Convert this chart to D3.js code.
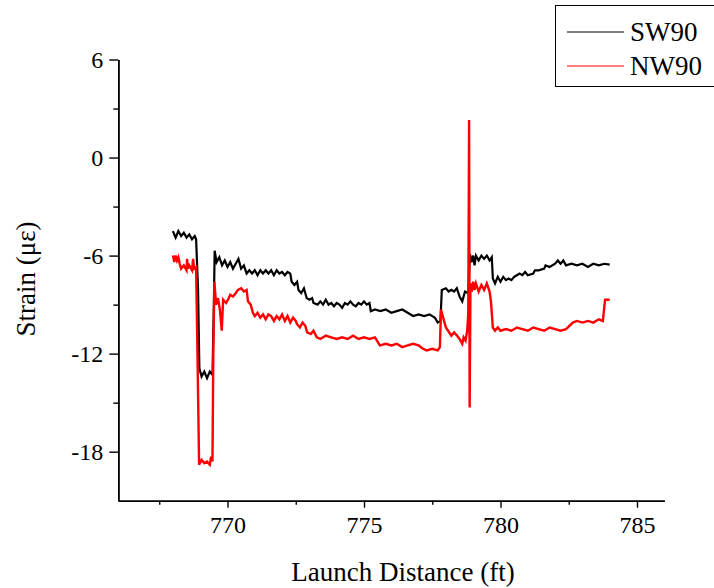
<!DOCTYPE html>
<html>
<head>
<meta charset="utf-8">
<script src="https://cdn.jsdelivr.net/npm/d3@7"></script>
<style>
  html, body { margin: 0; padding: 0; background: #fff; }
  svg { display: block; }
  text { font-family: "Liberation Serif", "Times New Roman", serif; fill: #000; }
</style>
</head>
<body>
<svg id="chart" width="714" height="588"></svg>
<script>
// ---- data ----
const seriesNames = ["SW90", "NW90"];
const xTicks = [770, 775, 780, 785];
const yTicks = [6, 0, -6, -12, -18];

const sw90Dist = [768.0,768.1,768.2,768.3,768.4,768.5,768.6,768.7,768.8,768.85,768.92,768.97,769.05,769.15,769.25,769.35,769.45,769.5,769.53,769.6,769.7,769.8,769.9,770.0,770.1,770.2,770.3,770.4,770.5,770.6,770.7,770.8,770.9,771.0,771.1,771.2,771.3,771.4,771.5,771.6,771.7,771.8,771.9,772.0,772.1,772.2,772.3,772.35,772.45,772.55,772.6,772.7,772.8,772.9,773.0,773.1,773.15,773.3,773.4,773.5,773.6,773.7,773.8,773.9,774.0,774.1,774.2,774.3,774.4,774.5,774.6,774.7,774.8,774.9,775.0,775.1,775.2,775.25,775.4,775.6,775.8,776.0,776.2,776.4,776.6,776.8,777.0,777.2,777.4,777.6,777.7,777.8,777.85,778.0,778.1,778.2,778.3,778.4,778.5,778.6,778.7,778.82,778.88,778.95,779.0,779.05,779.1,779.2,779.3,779.4,779.5,779.6,779.68,779.72,779.8,779.9,780.0,780.1,780.2,780.3,780.4,780.5,780.6,780.7,780.8,780.9,781.0,781.2,781.26,781.4,781.6,781.65,781.8,782.0,782.1,782.2,782.3,782.4,782.6,782.8,783.0,783.2,783.4,783.6,783.8,784.0];
const sw90Strain = [-4.5,-4.9,-4.5,-4.8,-4.6,-4.9,-4.7,-5.0,-4.8,-5.0,-8.0,-12.9,-13.4,-13.1,-13.5,-13.1,-13.3,-9.0,-5.7,-6.4,-6.1,-6.6,-6.3,-6.7,-6.4,-6.8,-6.5,-6.2,-6.8,-6.6,-7.1,-6.9,-7.1,-6.9,-7.2,-6.9,-7.1,-6.9,-7.1,-6.9,-7.2,-6.9,-7.1,-7.0,-7.2,-7.0,-7.1,-7.6,-7.8,-7.6,-8.1,-8.3,-8.0,-8.6,-8.7,-8.6,-8.9,-9.0,-8.8,-9.0,-8.7,-9.0,-8.9,-9.1,-8.9,-9.0,-9.2,-8.9,-9.0,-8.8,-9.0,-9.1,-8.9,-9.0,-8.8,-9.0,-8.9,-9.4,-9.3,-9.4,-9.3,-9.5,-9.4,-9.3,-9.5,-9.7,-9.6,-9.7,-9.6,-9.8,-10.1,-10.0,-8.1,-8.0,-8.2,-8.1,-8.2,-8.0,-8.5,-8.8,-8.2,-8.3,-5.9,-6.4,-6.0,-6.6,-6.0,-6.3,-6.0,-6.2,-6.0,-6.3,-6.1,-7.4,-7.7,-7.3,-7.6,-7.3,-7.5,-7.4,-7.5,-7.3,-7.2,-7.1,-7.2,-7.0,-7.2,-7.1,-6.9,-6.9,-6.8,-6.6,-6.7,-6.5,-6.3,-6.5,-6.3,-6.6,-6.5,-6.6,-6.5,-6.7,-6.5,-6.6,-6.5,-6.55];

const nw90Dist = [768.0,768.05,768.1,768.15,768.2,768.25,768.3,768.4,768.5,768.52,768.55,768.6,768.7,768.74,768.78,768.85,768.9,768.96,769.05,769.15,769.25,769.35,769.4,769.45,769.48,769.52,769.58,769.65,769.72,769.79,769.84,769.95,770.05,770.1,770.2,770.3,770.38,770.5,770.6,770.7,770.75,770.85,770.93,771.0,771.1,771.2,771.3,771.4,771.5,771.6,771.7,771.8,771.9,772.0,772.1,772.2,772.3,772.4,772.5,772.55,772.65,772.75,772.85,772.92,773.05,773.15,773.27,773.4,773.6,773.8,774.0,774.2,774.4,774.6,774.8,775.0,775.2,775.4,775.58,775.8,776.0,776.2,776.4,776.6,776.8,777.0,777.16,777.3,777.5,777.7,777.78,777.82,777.9,778.0,778.08,778.2,778.3,778.41,778.5,778.6,778.65,778.72,778.78,778.82,778.85,778.87,778.9,778.95,779.0,779.05,779.1,779.2,779.3,779.4,779.5,779.6,779.65,779.72,779.8,779.9,780.0,780.2,780.4,780.6,780.8,781.0,781.2,781.4,781.6,781.8,782.0,782.2,782.4,782.65,782.8,783.0,783.2,783.4,783.6,783.75,783.83,784.0];
const nw90Strain = [-6.0,-6.4,-6.0,-6.3,-6.1,-6.5,-6.8,-6.6,-6.9,-6.2,-6.8,-6.6,-6.9,-6.2,-6.8,-6.7,-12.0,-18.8,-18.5,-18.7,-18.6,-18.8,-18.3,-18.6,-12.0,-7.6,-9.0,-8.6,-9.3,-10.6,-8.7,-8.9,-8.6,-8.4,-8.5,-8.3,-8.1,-8.0,-8.2,-8.1,-8.8,-9.0,-9.5,-9.7,-9.5,-9.8,-9.6,-9.9,-9.6,-9.7,-10.0,-9.7,-9.9,-9.6,-10.0,-9.7,-10.1,-9.8,-10.0,-10.2,-10.4,-10.1,-10.3,-10.7,-10.8,-10.6,-11.0,-11.1,-10.9,-11.0,-11.1,-11.0,-11.1,-10.9,-11.1,-11.0,-11.1,-11.0,-11.5,-11.4,-11.5,-11.4,-11.6,-11.5,-11.4,-11.5,-11.7,-11.8,-11.7,-11.8,-11.6,-9.3,-9.8,-10.4,-10.6,-10.9,-10.7,-10.9,-11.1,-11.4,-11.0,-11.2,-10.6,-9.5,2.3,-15.3,-7.7,-8.2,-7.6,-8.1,-7.7,-8.2,-7.8,-8.1,-7.7,-8.2,-8.8,-10.4,-10.6,-10.4,-10.6,-10.5,-10.6,-10.4,-10.5,-10.6,-10.4,-10.5,-10.6,-10.4,-10.5,-10.6,-10.5,-10.1,-10.0,-10.1,-10.0,-10.1,-9.9,-10.0,-8.7,-8.7];

// ---- layout ----
const svg = d3.select("#chart");
const plotLeft = 118.3, plotRight = 664.3, plotTop = 59.5, plotBottom = 500.7;

const x = d3.scaleLinear().domain([766, 786]).range([plotLeft, plotRight]);
const y = d3.scaleLinear().domain([-21, 6]).range([plotBottom, plotTop]);

// axes
const xAxis = d3.axisBottom(x).tickValues(xTicks).tickSize(7).tickSizeOuter(0).tickPadding(8).tickFormat(d3.format("d"));
const xMinor = d3.axisBottom(x).tickValues([767.5, 772.5, 777.5, 782.5]).tickSize(4).tickSizeOuter(0).tickFormat("");
const yAxis = d3.axisLeft(y).tickValues(yTicks).tickSize(9).tickSizeOuter(0).tickPadding(6).tickFormat(d => d);
const yMinor = d3.axisLeft(y).tickValues([3, -3, -9, -15]).tickSize(5).tickSizeOuter(0).tickFormat("");

function styleAxis(g) {
  g.select(".domain").attr("stroke", "#000").attr("stroke-width", 1.6);
  g.selectAll(".tick line").attr("stroke", "#000").attr("stroke-width", 1.4);
  g.selectAll(".tick text").attr("font-family", "Liberation Serif").attr("font-size", 24).attr("fill", "#000");
}

svg.append("g").attr("transform", `translate(0,${plotBottom})`).call(xMinor).call(styleAxis);
svg.append("g").attr("transform", `translate(0,${plotBottom})`).call(xAxis).call(styleAxis);
svg.append("g").attr("transform", `translate(${plotLeft},0)`).call(yMinor).call(styleAxis);
svg.append("g").attr("transform", `translate(${plotLeft},0)`).call(yAxis).call(styleAxis);

// lines
const line = d3.line().x(d => x(d[0])).y(d => y(d[1]));
const sw = d3.zip(sw90Dist, sw90Strain);
const nw = d3.zip(nw90Dist, nw90Strain);

svg.append("path").datum(sw).attr("d", line).attr("fill", "none")
  .attr("stroke", "#000").attr("stroke-width", 2.2).attr("stroke-linejoin", "miter");
svg.append("path").datum(nw).attr("d", line).attr("fill", "none")
  .attr("stroke", "#ff0000").attr("stroke-width", 2.4).attr("stroke-linejoin", "miter");

// axis titles
svg.append("text").attr("x", 403).attr("y", 581)
  .attr("text-anchor", "middle").attr("font-size", 27).text("Launch Distance (ft)");
svg.append("text").attr("transform", "translate(35,279) rotate(-90)")
  .attr("text-anchor", "middle").attr("font-size", 27).text("Strain (με)");

// legend
const lg = svg.append("g");
lg.append("rect").attr("x", 555.5).attr("y", 5.5).attr("width", 170).attr("height", 81)
  .attr("fill", "#fff").attr("stroke", "#000").attr("stroke-width", 1);
const colors = ["#000", "#ff0000"];
seriesNames.forEach((n, i) => {
  const yy = 32 + i * 34;
  lg.append("line").attr("x1", 567).attr("x2", 624).attr("y1", yy).attr("y2", yy)
    .attr("stroke", colors[i]).attr("stroke-width", 1);
  lg.append("text").attr("x", 630).attr("y", yy + 9).attr("font-size", 27).text(n);
});
</script>
</body>
</html>
